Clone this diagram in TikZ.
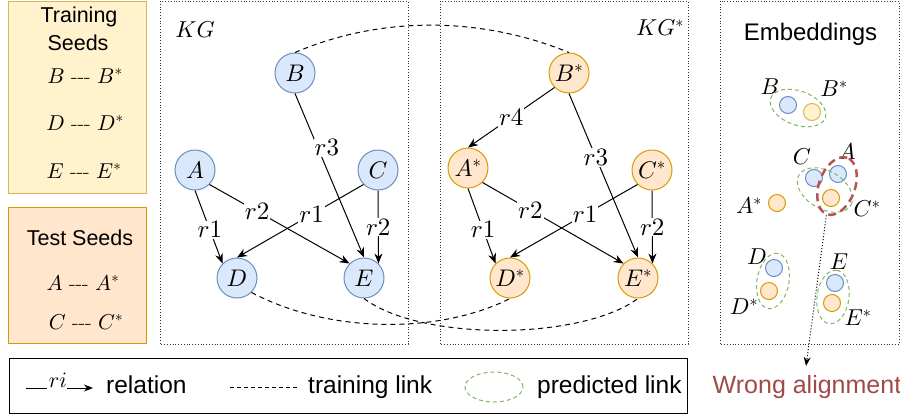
\documentclass[tikz,border=0pt]{standalone}
\usepackage[no-math]{fontspec}
\DeclareFontShape{OML}{cmm}{m}{it}{<->cmmi10}{}
\DeclareFontShape{OMS}{cmsy}{m}{n}{<->cmsy10}{}
\DeclareFontShape{OT1}{cmr}{m}{n}{<->cmr10}{}
\newfontfamily\arial{Liberation Sans}
\usetikzlibrary{shapes.geometric,arrows.meta}
\definecolor{bfill}{HTML}{DAE8FC}
\definecolor{bline}{HTML}{6C8EBF}
\definecolor{ofill}{HTML}{FFE6CC}
\definecolor{oline}{HTML}{D79B00}
\definecolor{yfill}{HTML}{FFF2CC}
\definecolor{yline}{HTML}{D6B656}
\definecolor{gline}{HTML}{82B366}
\definecolor{rline}{HTML}{B85450}
\definecolor{wrongc}{HTML}{A04A48}
\tikzset{
  kgb/.style={circle, draw=bline, fill=bfill, line width=1pt, minimum size=40pt, inner sep=0pt, font=\fontsize{24}{24}\selectfont},
  kgo/.style={circle, draw=oline, fill=ofill, line width=1pt, minimum size=40pt, inner sep=0pt, font=\fontsize{24}{24}\selectfont},
  rel/.style={-{Stealth[length=10pt,width=8pt]}, line width=1pt},
  lbl/.style={fill=white, inner sep=1pt, font=\fontsize{25}{25}\selectfont},
  eb/.style={circle, draw=bline, fill=bfill, line width=1pt, minimum size=17pt, inner sep=0pt},
  eo/.style={circle, draw=oline, fill=ofill, line width=1pt, minimum size=17pt, inner sep=0pt},
  ey/.style={circle, draw=yline, fill=yfill, line width=1pt, minimum size=17pt, inner sep=0pt},
  elbl/.style={font=\fontsize{23}{23}\selectfont, inner sep=0pt},
  pred/.style={ellipse, draw=gline, dash pattern=on 4pt off 3pt, line width=1pt, inner sep=0pt},
  wrongell/.style={ellipse, draw=rline, dash pattern=on 8pt off 5pt, line width=2.5pt, inner sep=0pt},
  train/.style={dash pattern=on 5pt off 4pt, line width=1pt},
  panel/.style={draw=black!80, dotted, line width=0.8pt},
  seedtxt/.style={font=\arial\fontsize{21.5}{21.5}\selectfont, inner sep=0pt, anchor=base},
  seedmath/.style={font=\fontsize{21.5}{21.5}\selectfont, inner sep=0pt, anchor=base},
  legtxt/.style={font=\arial\fontsize{24.5}{24.5}\selectfont, inner sep=0pt, anchor=base west},
}
\begin{document}
\begin{tikzpicture}[x=1pt,y=-1pt]
\useasboundingbox (0,0) rectangle (900,416);

% seed boxes
\draw[draw=yline, fill=yfill, line width=1pt] (8,1) rectangle (146,193);
\draw[draw=oline, fill=ofill, line width=1pt] (8,207) rectangle (146,343);
\node[seedtxt] (tr1) at (79,22) {Training};
\node[seedtxt] (tr2) at (78,50) {Seeds};
\node[seedmath] (sb) at (85,83) {$B$ -{}-{}- $B^*$};
\node[seedmath] (sd) at (85,130) {$D$ -{}-{}- $D^*$};
\node[seedmath] (se) at (84,178) {$E$ -{}-{}- $E^*$};
\node[seedtxt] (te) at (80,245) {Test Seeds};
\node[seedmath] (sa) at (83,290) {$A$ -{}-{}- $A^*$};
\node[seedmath] (sc) at (86,329) {$C$ -{}-{}- $C^*$};

% panels
\draw[panel] (160,1) rectangle (408,344);
\draw[panel] (440,1) rectangle (688,344);
\draw[panel] (720,1) rectangle (899,344);
\node[font=\fontsize{23}{23}\selectfont] (kg) at (195,30) {$KG$};
\node[font=\fontsize{23}{23}\selectfont] (kgs) at (660,28) {$KG^*$};

% KG nodes
\node[kgb] (B) at (295,73) {$B$};
\node[kgb] (A) at (195,170) {$A$};
\node[kgb] (C) at (378,170) {$C$};
\node[kgb] (D) at (237,278) {$D$};
\node[kgb] (E) at (364,278) {$E$};
% KG* nodes
\node[kgo] (Bs) at (569,73) {$B^*$};
\node[kgo] (As) at (468,168) {$A^*$};
\node[kgo] (Cs) at (652,170) {$C^*$};
\node[kgo] (Ds) at (510,278) {$D^*$};
\node[kgo] (Es) at (638,278) {$E^*$};

% KG edges
\draw[rel] (A.south) -- node[lbl, pos=0.54] (l1) {$r1$} (D.north west);
\draw[rel] (A.south east) -- node[lbl, pos=0.34] (l2) {$r2$} (E.north west);
\draw[rel] (C.south west) -- node[lbl, pos=0.41] (l3) {$r1$} (D.north);
\draw[rel] (C.south) -- node[lbl, pos=0.5] (l4) {$r2$} (E.north east);
\draw[rel] (B.south) -- node[lbl, pos=0.33, xshift=9pt] (l5) {$r3$} (E.north);
% KG* edges
\draw[rel] (Bs.south west) -- node[lbl, pos=0.5] (m0) {$r4$} (As.north);
\draw[rel] (As.south) -- node[lbl, pos=0.55] (m1) {$r1$} (Ds.north west);
\draw[rel] (As.south east) -- node[lbl, pos=0.34] (m2) {$r2$} (Es.north west);
\draw[rel] (Cs.south west) -- node[lbl, pos=0.41] (m3) {$r1$} (Ds.north);
\draw[rel] (Cs.south) -- node[lbl, pos=0.5] (m4) {$r2$} (Es.north east);
\draw[rel] (Bs.south) -- node[lbl, pos=0.39] (m5) {$r3$} (Es.north);

% training links
\draw[train] (B.north) .. controls (380,16) and (480,16) .. (Bs.north);
\draw[train] (D.south east) .. controls (330,334) and (440,334) .. (Ds.south);
\draw[train] (E.south) .. controls (420,341) and (580,341) .. (Es.south);

% embeddings
\node[font=\arial\fontsize{24}{24}\selectfont, inner sep=0pt, anchor=base] (emb) at (810.5,40) {Embeddings};
\node[eb] (eB) at (788,105) {};
\node[ey] (eBs) at (812,112) {};
\node[eb] (eC) at (814,178) {};
\node[eb] (eA) at (838,174) {};
\node[eo] (eCs) at (831,198) {};
\node[eo] (eAs) at (777,203) {};
\node[eb] (eD) at (774,268) {};
\node[eo] (eDs) at (769,291) {};
\node[eb] (eE) at (835,283) {};
\node[eo] (eEs) at (832,303) {};
\node[elbl] (tB) at (770,87) {$B$};
\node[elbl] (tBs) at (834,89) {$B^*$};
\node[elbl] (tC) at (802,157) {$C$};
\node[elbl] (tA) at (847,152) {$A$};
\node[elbl] (tAs) at (749,206) {$A^*$};
\node[elbl] (tCs) at (867,209) {$C^*$};
\node[elbl] (tD) at (757,257) {$D$};
\node[elbl] (tDs) at (744,307) {$D^*$};
\node[elbl] (tE) at (839,262) {$E$};
\node[elbl] (tEs) at (858,318) {$E^*$};
\node[pred, minimum width=58pt, minimum height=34pt, rotate=-20] (pB) at (798,108) {};
\node[pred, minimum width=60pt, minimum height=38pt, rotate=-30] (pC) at (825,190) {};
\node[pred, minimum width=56pt, minimum height=32pt, rotate=80] (pD) at (773,281) {};
\node[pred, minimum width=54pt, minimum height=32pt, rotate=82] (pE) at (833,297) {};
\node[wrongell, minimum width=60pt, minimum height=36pt, rotate=70] (red) at (837,186) {};
\node[font=\arial\fontsize{25}{25}\selectfont, text=wrongc, inner sep=0pt] (wrong) at (807,387) {Wrong alignment};
\coordinate (wtip) at (806,366);
\draw[dotted, line width=1pt, -{Stealth[length=9pt,width=7pt]}] (red.west) -- (wtip);

% legend
\draw[line width=1pt] (9,358) rectangle (687,413);
\coordinate (g1) at (26,388);
\coordinate (g2) at (47,388);
\node[font=\fontsize{22}{22}\selectfont, inner sep=0pt] (gri) at (58,380) {$ri$};
\coordinate (g3) at (67,388);
\coordinate (g4) at (93,388);
\draw[line width=1pt] (g1) -- (g2);
\draw[line width=1pt, -{Stealth[length=9pt,width=7pt]}] (g3) -- (g4);
\node[legtxt] (lrel) at (106,393) {relation};
\coordinate (d1) at (230,387);
\coordinate (d2) at (298,387);
\draw[dash pattern=on 4pt off 3pt, line width=1pt] (d1) -- (d2);
\node[legtxt] (ltr) at (308,393) {training link};
\node[pred, minimum width=58pt, minimum height=30pt] (lell) at (494,387) {};
\node[legtxt] (lpr) at (537,393) {predicted link};
\end{tikzpicture}
\end{document}
